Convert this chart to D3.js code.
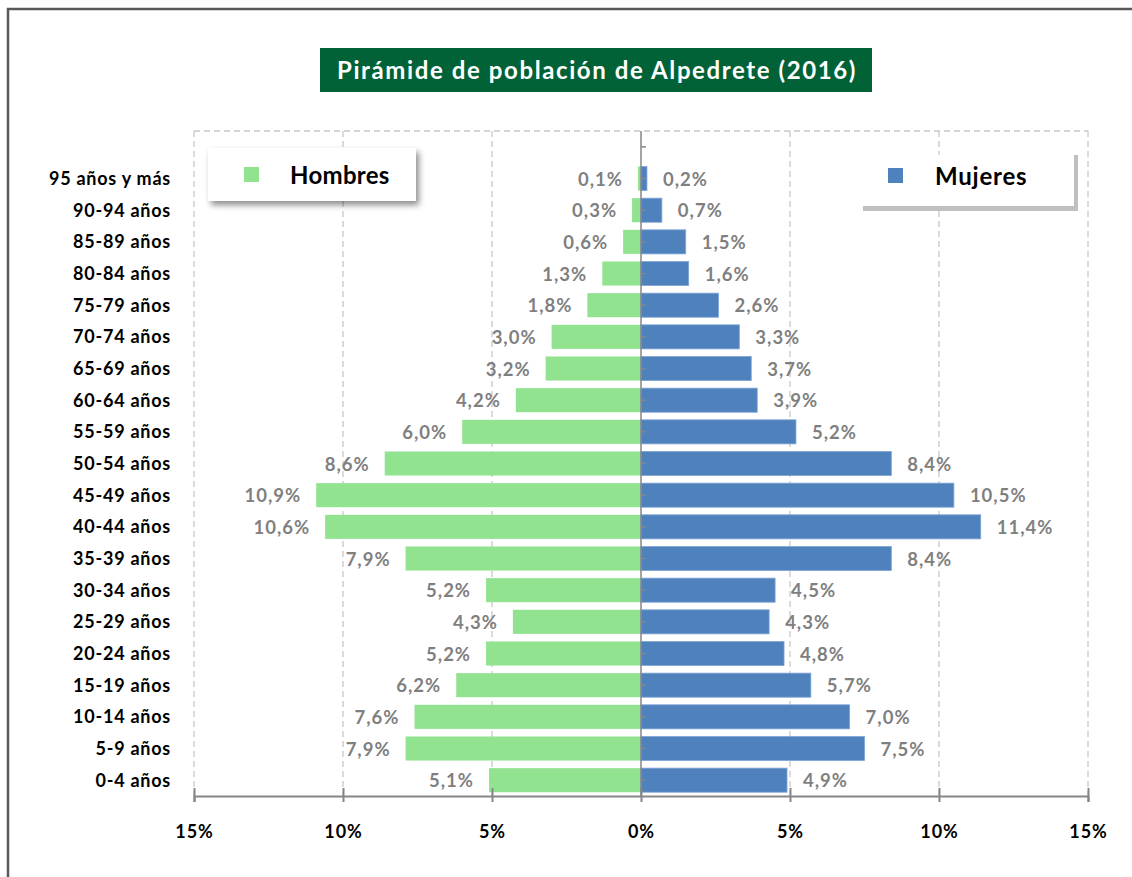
<!DOCTYPE html>
<html><head><meta charset="utf-8">
<script src="https://cdn.jsdelivr.net/npm/d3@7"></script>
<style>
body{margin:0;background:#fff;}
svg{display:block;font-family:"Lato","Open Sans",sans-serif;}
</style></head>
<body><svg id="c" width="1132" height="877"></svg>
<script>
const categories = ["95 años y más","90-94 años","85-89 años","80-84 años","75-79 años","70-74 años","65-69 años","60-64 años","55-59 años","50-54 años","45-49 años","40-44 años","35-39 años","30-34 años","25-29 años","20-24 años","15-19 años","10-14 años","5-9 años","0-4 años"];
const hombres = [0.1,0.3,0.6,1.3,1.8,3.0,3.2,4.2,6.0,8.6,10.9,10.6,7.9,5.2,4.3,5.2,6.2,7.6,7.9,5.1];
const mujeres = [0.2,0.7,1.5,1.6,2.6,3.3,3.7,3.9,5.2,8.4,10.5,11.4,8.4,4.5,4.3,4.8,5.7,7.0,7.5,4.9];
const tickValues = [-15,-10,-5,0,5,10,15];
const title = "Pirámide de población de Alpedrete (2016)";
const seriesNames = ["Hombres","Mujeres"];

const svg = d3.select("#c");
const fmt = v => String(v.toFixed(1)).replace(".", ",") + "%";

// outer frame
svg.append("rect").attr("x",8).attr("y",9).attr("width",1140).attr("height",900)
  .attr("fill","none").attr("stroke","#595959").attr("stroke-width",2.5);

// title
svg.append("rect").attr("x",320).attr("y",48).attr("width",552).attr("height",44).attr("fill","#006236");
svg.append("text").attr("x",597).attr("y",79).attr("text-anchor","middle")
  .attr("fill","#fff").attr("font-weight","bold").attr("font-size",24).attr("letter-spacing",1.6).text(title);

const x = d3.scaleLinear().domain([-15,15]).range([194,1088]);
const y = d3.scaleBand().domain(categories).range([162.7,796]).paddingInner(0.24).paddingOuter(0.12);
const plotTop = 131, plotBottom = 796;

// dashed gridlines & plot border
const grid = svg.append("g").attr("stroke","#c8c8c8").attr("stroke-dasharray","6,4").attr("stroke-width",1.3).attr("fill","none");
tickValues.filter(v=>v!==0).forEach(v=>{
  grid.append("line").attr("x1",x(v)).attr("x2",x(v)).attr("y1",plotTop).attr("y2",plotBottom);
});
grid.append("line").attr("x1",x(-15)).attr("x2",x(15)).attr("y1",plotTop).attr("y2",plotTop);

// bars
svg.append("g").selectAll("rect").data(categories).join("rect")
  .attr("x",(d,i)=>x(-hombres[i])).attr("y",d=>y(d))
  .attr("width",(d,i)=>x(0)-x(-hombres[i])).attr("height",y.bandwidth())
  .attr("fill","#92e38f");
svg.append("g").selectAll("rect").data(categories).join("rect")
  .attr("x",x(0)).attr("y",d=>y(d))
  .attr("width",(d,i)=>x(mujeres[i])-x(0)).attr("height",y.bandwidth())
  .attr("fill","#4f81bd").attr("stroke","#7fa6d6").attr("stroke-width",0.8);

// value labels
const lab = svg.append("g").attr("fill","#7f7f7f").attr("font-weight","bold").attr("font-size",18.5).attr("letter-spacing",1);
categories.forEach((c,i)=>{
  const cy = y(c)+y.bandwidth()/2+7;
  lab.append("text").attr("x",x(-hombres[i])-15).attr("y",cy).attr("text-anchor","end").text(fmt(hombres[i]));
  lab.append("text").attr("x",x(mujeres[i])+16).attr("y",cy).attr("text-anchor","start").text(fmt(mujeres[i]));
});

// center (category) axis
const ax = svg.append("g").attr("stroke","#868686").attr("stroke-width",1.5);
ax.append("line").attr("x1",x(0)).attr("x2",x(0)).attr("y1",plotTop).attr("y2",plotBottom);
const centers = categories.map(c=>y(c)+y.bandwidth()/2);
[centers[0]-y.step()].concat(centers).forEach(cy=>{
  ax.append("line").attr("x1",x(0)).attr("x2",x(0)+5).attr("y1",cy).attr("y2",cy);
});

// bottom axis
const xAxis = d3.axisBottom(x).tickValues(tickValues).tickSize(6).tickFormat(d=>Math.abs(d)+"%");
const gx = svg.append("g").attr("transform",`translate(0,${plotBottom})`).call(xAxis);
gx.select(".domain").attr("stroke","#868686").attr("stroke-width",2);
gx.selectAll(".tick line").attr("stroke","#868686").attr("stroke-width",2).attr("y1",-8);
gx.selectAll(".tick text").attr("font-family","Lato, 'Open Sans', sans-serif").attr("font-size",18)
  .attr("letter-spacing",1).attr("font-weight","bold").attr("fill","#000").attr("y",29);

// category labels
svg.append("g").selectAll("text").data(categories).join("text")
  .attr("x",171).attr("y",d=>y(d)+y.bandwidth()/2+6.5)
  .attr("text-anchor","end").attr("font-weight","bold").attr("font-size",18).attr("letter-spacing",0.75)
  .attr("fill","#000").text(d=>d);

// legends
const defs = svg.append("defs");
const f = defs.append("filter").attr("id","sh").attr("x","-10%").attr("y","-20%").attr("width","130%").attr("height","160%");
f.append("feDropShadow").attr("dx",3).attr("dy",4).attr("stdDeviation",3).attr("flood-color","#000").attr("flood-opacity",0.45);

svg.append("rect").attr("x",208).attr("y",148).attr("width",208).attr("height",53).attr("fill","#fff").attr("filter","url(#sh)");
svg.append("rect").attr("x",244).attr("y",167).attr("width",15).attr("height",15).attr("fill","#92e38f");
svg.append("text").attr("x",290).attr("y",184).attr("font-weight","bold").attr("font-size",24).attr("letter-spacing",0.3).attr("fill","#000").text(seriesNames[0]);

svg.append("rect").attr("x",863).attr("y",155).attr("width",215).attr("height",56).attr("fill","#c0c0c0");
svg.append("rect").attr("x",863).attr("y",155).attr("width",211).attr("height",51).attr("fill","#fff");
svg.append("rect").attr("x",888).attr("y",168).attr("width",15).attr("height",15).attr("fill","#4f81bd");
svg.append("text").attr("x",935).attr("y",185).attr("font-weight","bold").attr("font-size",24).attr("letter-spacing",0.8).attr("fill","#000").text(seriesNames[1]);
</script></body></html>
